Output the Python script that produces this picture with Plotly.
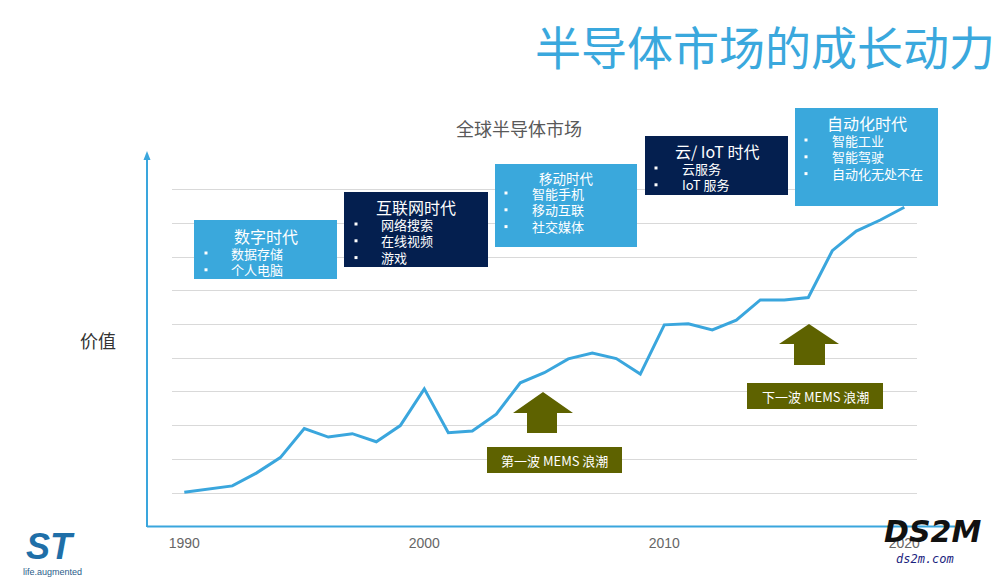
import plotly.graph_objects as go

# ---------------- data ----------------
years = list(range(1990, 2021))
market_value = [1.02, 1.12, 1.21, 1.59, 2.05, 2.91, 2.66, 2.76, 2.52, 3.00,
                4.09, 2.79, 2.84, 3.34, 4.27, 4.57, 4.98, 5.15, 4.99, 4.53,
                5.99, 6.02, 5.84, 6.13, 6.73, 6.73, 6.80, 8.19, 8.77, 9.10, 9.48]
tick_years = [1990, 2000, 2010, 2020]
grid_values = [1, 2, 3, 4, 5, 6, 7, 8, 9, 10]

era_titles = ["数字时代", "互联网时代", "移动时代", "云/ IoT 时代", "自动化时代"]
era_items = [
    ["数据存储", "个人电脑"],
    ["网络搜索", "在线视频", "游戏"],
    ["智能手机", "移动互联", "社交媒体"],
    ["云服务", "IoT 服务"],
    ["智能工业", "智能驾驶", "自动化无处不在"],
]
mems_labels = ["第一波 MEMS 浪潮", "下一波 MEMS 浪潮"]

# ---------------- layout geometry (window pixels) ----------------
OFF = 8                      # page body margin
W, H = 1000 - OFF, 581 - OFF
PL, PR, PT, PB = 172, 917, 150, 527   # plot area in window pixels


def px(x):
    return (x - PL) / (PR - PL)


def py(y):
    return (PB - y) / (PB - PT)


LIGHT = "#3AA8DC"
NAVY = "#041F4F"
OLIVE = "#5E6200"
LINE = "#3AA6DD"
FONT = "Noto Sans CJK SC"

fig = go.Figure()
fig.add_trace(go.Scatter(
    x=years, y=market_value, mode="lines",
    line=dict(color=LINE, width=3),
    hoverinfo="skip", showlegend=False,
))

x0 = 1990 - (184.3 - PL) / 24.0
x1 = 1990 + (PR - 184.3) / 24.0
unit = 33.7
y0 = (526.7 - PB) / unit
y1 = (526.7 - PT) / unit

fig.update_layout(
    width=W, height=H,
    margin=dict(l=PL - OFF, r=1000 - PR, t=PT - OFF, b=581 - PB, pad=0),
    paper_bgcolor="white", plot_bgcolor="white",
    font=dict(family=FONT),
    xaxis=dict(range=[x0, x1], tickvals=tick_years, showgrid=False,
               zeroline=False, showline=False, ticks="",
               ticklabelstandoff=6,
               tickfont=dict(family="Liberation Sans, Arial", size=14, color="#666666")),
    yaxis=dict(range=[y0, y1], tickvals=grid_values, showticklabels=False,
               showgrid=True, gridcolor="#D9D9D9", gridwidth=1,
               zeroline=False, showline=False),
)

shapes = []
ann = []

# axes lines
shapes.append(dict(type="line", xref="paper", yref="paper",
                   x0=px(147), x1=px(955), y0=py(526.5), y1=py(526.5),
                   line=dict(color=LINE, width=2)))
shapes.append(dict(type="line", xref="paper", yref="paper",
                   x0=px(147), x1=px(147), y0=py(527), y1=py(158),
                   line=dict(color=LINE, width=2)))
shapes.append(dict(type="path", xref="paper", yref="paper",
                   path=f"M {px(143.5)} {py(160)} L {px(147)} {py(151)} L {px(150.5)} {py(160)} Z",
                   fillcolor=LINE, line=dict(color=LINE, width=0)))

# era boxes: (left, top, right, bottom, color, title_y, title_size, item_y0, bullet_x, text_x)
boxes = [
    (194, 220, 337, 279, LIGHT, 236, 16, 253, 206, 229),
    (344, 192, 488, 267, NAVY, 207, 16, 224, 356, 379),
    (495, 164, 637, 247, LIGHT, 178, 13.5, 193, 506, 530),
    (645, 136, 788, 195, NAVY, 151, 16, 168, 656, 680),
    (795, 108, 938, 206, LIGHT, 123, 16, 140, 806, 830),
]
for i, (l, t, r, b, col, ty, ts, iy, bx, tx) in enumerate(boxes):
    shapes.append(dict(type="rect", xref="paper", yref="paper",
                       x0=px(l), x1=px(r), y0=py(b), y1=py(t),
                       fillcolor=col, line=dict(width=0), layer="above"))
    ann.append(dict(xref="paper", yref="paper", x=px((l + r) / 2), y=py(ty),
                    text=era_titles[i], showarrow=False, xanchor="center", yanchor="middle",
                    font=dict(family=FONT, size=ts, color="white")))
    for j, item in enumerate(era_items[i]):
        yy = iy + j * 16.8
        shapes.append(dict(type="rect", xref="paper", yref="paper",
                           x0=px(bx - 1.5), x1=px(bx + 1.5), y0=py(yy + 1.5), y1=py(yy - 1.5),
                           fillcolor="white", line=dict(width=0), layer="above"))
        ann.append(dict(xref="paper", yref="paper", x=px(tx), y=py(yy),
                        text=item, showarrow=False, xanchor="left", yanchor="middle",
                        font=dict(family=FONT, size=13, color="white")))

# MEMS arrows
arrows = [
    (513, 573, 392, 413, 527, 557, 433),
    (779, 839, 324, 344, 794, 825, 365),
]
for hl, hr, tip, base, sl, sr, bot in arrows:
    cx = (hl + hr) / 2
    path = (f"M {px(cx)} {py(tip)} L {px(hr)} {py(base)} L {px(sr)} {py(base)} "
            f"L {px(sr)} {py(bot)} L {px(sl)} {py(bot)} L {px(sl)} {py(base)} "
            f"L {px(hl)} {py(base)} Z")
    shapes.append(dict(type="path", xref="paper", yref="paper", path=path,
                       fillcolor=OLIVE, line=dict(width=0), layer="above"))

mems_boxes = [(487, 447, 622, 473), (747, 383, 883, 409)]
for k, (l, t, r, b) in enumerate(mems_boxes):
    shapes.append(dict(type="rect", xref="paper", yref="paper",
                       x0=px(l), x1=px(r), y0=py(b), y1=py(t),
                       fillcolor=OLIVE, line=dict(width=0), layer="above"))
    ann.append(dict(xref="paper", yref="paper", x=px((l + r) / 2), y=py((t + b) / 2),
                    text=mems_labels[k], showarrow=False, xanchor="center", yanchor="middle",
                    font=dict(family=FONT, size=13, color="white")))

# titles
ann.append(dict(xref="paper", yref="paper", x=px(765), y=py(45),
                text="半导体市场的成长动力", showarrow=False, xanchor="center", yanchor="middle",
                font=dict(family=FONT, size=46, color="#3AA8DD")))
ann.append(dict(xref="paper", yref="paper", x=px(519), y=py(128),
                text="全球半导体市场", showarrow=False, xanchor="center", yanchor="middle",
                font=dict(family=FONT, size=18, color="#595959")))
ann.append(dict(xref="paper", yref="paper", x=px(98), y=py(340),
                text="价值", showarrow=False, xanchor="center", yanchor="middle",
                font=dict(family=FONT, size=18, color="#333333")))

# logos (as text)
ann.append(dict(xref="paper", yref="paper", x=px(50), y=py(546),
                text="<b><i>ST</i></b>", showarrow=False, xanchor="center", yanchor="middle",
                font=dict(family="Liberation Sans", size=36, color="#1F6FA8")))
ann.append(dict(xref="paper", yref="paper", x=px(52), y=py(572),
                text="life.augmented", showarrow=False, xanchor="center", yanchor="middle",
                font=dict(family="Liberation Sans", size=9, color="#2A5C8A")))
ann.append(dict(xref="paper", yref="paper", x=px(932), y=py(531),
                text="<b><i>DS2M</i></b>", showarrow=False, xanchor="center", yanchor="middle",
                font=dict(family="DejaVu Sans", size=30, color="#111111")))
ann.append(dict(xref="paper", yref="paper", x=px(925), y=py(559),
                text="<i>ds2m.com</i>", showarrow=False, xanchor="center", yanchor="middle",
                font=dict(family="DejaVu Sans Mono", size=12, color="#1A237E")))

fig.update_layout(shapes=shapes, annotations=ann)
fig.write_html("out.html")
